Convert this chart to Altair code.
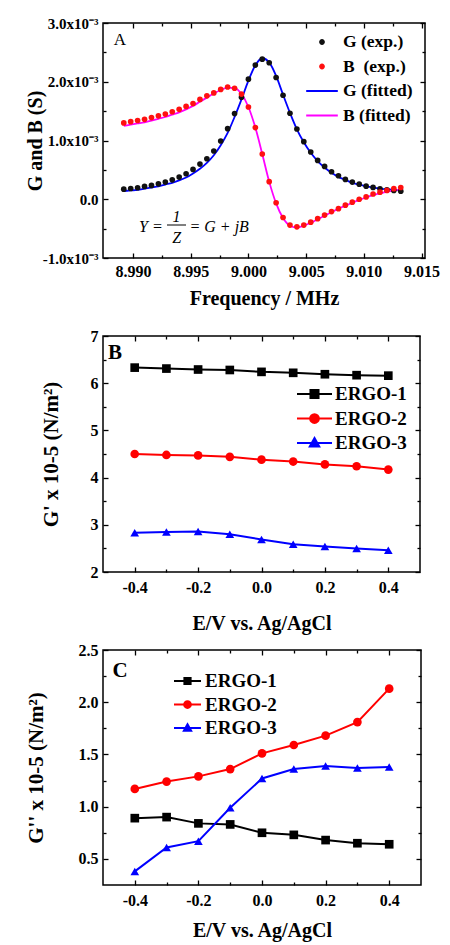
import altair as alt
import pandas as pd

FONT = "Liberation Serif"

# ---------------- Panel A: admittance spectrum ----------------
freq_mhz = [8.9892, 8.9898, 8.9904, 8.9910, 8.9916, 8.9922, 8.9928, 8.9934, 8.9940, 8.9946,
            8.9952, 8.9958, 8.9964, 8.9970, 8.9976, 8.9982, 8.9988, 8.9994, 9.0000, 9.0006,
            9.0012, 9.0018, 9.0024, 9.0030, 9.0036, 9.0042, 9.0048, 9.0054, 9.0060, 9.0066,
            9.0072, 9.0078, 9.0084, 9.0090, 9.0096, 9.0102, 9.0108, 9.0114, 9.0120, 9.0126,
            9.0132]
# values in units of 1e-3 S
g_exp = [0.172, 0.183, 0.195, 0.218, 0.235, 0.263, 0.292, 0.331, 0.377, 0.434,
         0.508, 0.599, 0.690, 0.821, 0.991, 1.202, 1.458, 1.737, 2.044, 2.283,
         2.385, 2.323, 2.073, 1.771, 1.464, 1.196, 0.980, 0.804, 0.661, 0.559,
         0.468, 0.400, 0.337, 0.292, 0.257, 0.223, 0.201, 0.178, 0.161, 0.149,
         0.138]
b_exp = [1.30, 1.32, 1.34, 1.36, 1.39, 1.42, 1.45, 1.49, 1.53, 1.58,
         1.63, 1.70, 1.76, 1.81, 1.87, 1.91, 1.89, 1.79, 1.57, 1.22,
         0.77, 0.30, -0.06, -0.31, -0.44, -0.47, -0.44, -0.39, -0.33, -0.27,
         -0.21, -0.16, -0.10, -0.05, 0.00, 0.04, 0.09, 0.12, 0.15, 0.18,
         0.20]
g_fit = [0.14, 0.15, 0.16, 0.18, 0.20, 0.22, 0.25, 0.28, 0.32, 0.37,
         0.44, 0.52, 0.62, 0.75, 0.92, 1.13, 1.40, 1.70, 2.02, 2.28,
         2.40, 2.33, 2.10, 1.78, 1.47, 1.19, 0.97, 0.79, 0.65, 0.54,
         0.45, 0.38, 0.33, 0.28, 0.25, 0.22, 0.20, 0.18, 0.17, 0.16,
         0.15]
b_fit = [1.25, 1.27, 1.29, 1.31, 1.34, 1.37, 1.40, 1.44, 1.48, 1.53,
         1.59, 1.66, 1.73, 1.80, 1.86, 1.90, 1.89, 1.79, 1.57, 1.22,
         0.77, 0.30, -0.07, -0.32, -0.45, -0.48, -0.45, -0.40, -0.34, -0.28,
         -0.22, -0.16, -0.11, -0.06, -0.01, 0.03, 0.07, 0.10, 0.13, 0.15,
         0.17]
A_series = ["G (exp.)", "B\u00a0 (exp.)", "G (fitted)", "B (fitted)"]
A_colors = ["#111111", "#ff1010", "#0000ff", "#ff00ff"]
DOT = "M0.12,0A0.12,0.12,0,1,1,-0.12,0A0.12,0.12,0,1,1,0.12,0Z"
A_legend_shapes = [DOT, DOT, "M-1,0H1", "M-1,0H1"]

# ---------------- Panels B and C: moduli vs potential ----------------
potential = [-0.4, -0.3, -0.2, -0.1, 0.0, 0.1, 0.2, 0.3, 0.4]
samples = ["ERGO-1", "ERGO-2", "ERGO-3"]
sample_colors = ["#000000", "#ff0000", "#0000ff"]
sample_markers = ["square", "circle", "triangle-up"]
sample_legend_shapes = [
    "M-1,0H1M-0.23,-0.23H0.23V0.23H-0.23Z",
    "M-1,0H1M0.25,0A0.25,0.25,0,1,1,-0.25,0A0.25,0.25,0,1,1,0.25,0Z",
    "M-1,0H1M0,-0.28L0.27,0.2H-0.27Z",
]
gp_ergo1 = [6.33, 6.31, 6.29, 6.28, 6.24, 6.22, 6.19, 6.17, 6.16]
gp_ergo2 = [4.50, 4.48, 4.47, 4.44, 4.38, 4.34, 4.28, 4.24, 4.17]
gp_ergo3 = [2.83, 2.85, 2.86, 2.80, 2.69, 2.59, 2.54, 2.50, 2.46]
gpp_ergo1 = [0.89, 0.90, 0.84, 0.83, 0.75, 0.73, 0.68, 0.65, 0.64]
gpp_ergo2 = [1.17, 1.24, 1.29, 1.36, 1.51, 1.59, 1.68, 1.81, 2.13]
gpp_ergo3 = [0.38, 0.61, 0.67, 0.99, 1.27, 1.36, 1.39, 1.37, 1.38]

# ---------------- tables ----------------
ptsA = pd.DataFrame({
    "f": freq_mhz * 2,
    "v": g_exp + b_exp,
    "s": [A_series[0]] * len(freq_mhz) + [A_series[1]] * len(freq_mhz),
})
fitA = pd.DataFrame({
    "f": freq_mhz * 2,
    "v": g_fit + b_fit,
    "s": [A_series[2]] * len(freq_mhz) + [A_series[3]] * len(freq_mhz),
})


def long_table(series_lists):
    rows = []
    for name, vals in zip(samples, series_lists):
        for e, v in zip(potential, vals):
            rows.append({"e": e, "v": v, "s": name})
    return pd.DataFrame(rows)


dfB = long_table([gp_ergo1, gp_ergo2, gp_ergo3])
dfC = long_table([gpp_ergo1, gpp_ergo2, gpp_ergo3])


# ---------------- helpers ----------------
def tick_layers(df, xf, yf, xscale, yscale, xmaj, xmin, ymaj, ymin, W, H):
    base = alt.Chart(df).mark_point(opacity=0, size=1)

    def ax(orient, off, vals, size):
        return alt.Axis(orient=orient, offset=off, values=vals, tickSize=size,
                        tickWidth=1.3, tickColor="black", labels=False, title=None,
                        domain=False, grid=False, ticks=True)

    layers = []
    for orient in ["top", "bottom"]:
        for vals, size in [(xmaj, 5), (xmin, 3)]:
            layers.append(base.encode(
                x=alt.X(f"{xf}:Q", scale=xscale, axis=ax(orient, -H, vals, size)),
                y=alt.Y(f"{yf}:Q", scale=yscale, axis=None)))
    for orient in ["left", "right"]:
        for vals, size in [(ymaj, 5), (ymin, 3)]:
            layers.append(base.encode(
                x=alt.X(f"{xf}:Q", scale=xscale, axis=None),
                y=alt.Y(f"{yf}:Q", scale=yscale, axis=ax(orient, -W, vals, size))))
    return layers


def hyphen(fmt):
    return f"replace(format(datum.value, '{fmt}'), '\u2212', '-')"


def label_axis(orient, vals, title, label_pad, title_pad, label_expr, title_size=20,
               label_size=16):
    return alt.Axis(orient=orient, values=vals, ticks=False, domain=False, grid=False,
                    labelFont=FONT, labelFontSize=label_size, labelFontWeight="bold",
                    labelColor="black", labelPadding=label_pad, labelFlush=False,
                    labelOverlap=False, labelExpr=label_expr,
                    title=title, titleFont=FONT, titleFontSize=title_size, titleFontWeight="bold",
                    titleColor="black", titlePadding=title_pad)


def make_legend(x, y, size, label_offset, row_pad, font_size):
    return alt.Legend(
        title=None, orient="none", legendX=x, legendY=y, padding=0,
        labelFont=FONT, labelFontSize=font_size, labelFontWeight="bold", labelColor="black",
        labelOffset=label_offset, symbolSize=size, symbolStrokeWidth=2, symbolOpacity=1,
        clipHeight=18, rowPadding=row_pad)


one = pd.DataFrame({"k": [0]})


def text_layer(txt, x, y, size, weight="normal", style="normal", align="center"):
    return alt.Chart(pd.DataFrame({"t": [txt]})).mark_text(
        font=FONT, fontSize=size, fontWeight=weight, fontStyle=style, color="black",
        align=align, baseline="middle").encode(text="t:N", x=alt.value(x), y=alt.value(y))


# ---------------- Panel A ----------------
WA, HA = 322, 235
xsA = alt.Scale(domain=[8.9874, 9.0153], nice=False, zero=False)
ysA = alt.Scale(domain=[-1.0, 3.0], nice=False, zero=False)
colA_scale = alt.Scale(domain=A_series, range=A_colors)
legA = make_legend(202, 10, 1000, 4, 6.5, 17.5)

legendA = alt.Chart(fitA).transform_filter("false").mark_point(filled=True, opacity=1, size=1000).encode(
    x=alt.X("f:Q", scale=xsA, axis=None),
    y=alt.Y("v:Q", scale=ysA, axis=None),
    color=alt.Color("s:N", scale=colA_scale, legend=legA),
    stroke=alt.Stroke("s:N", scale=alt.Scale(domain=A_series, range=A_colors), legend=legA),
    shape=alt.Shape("s:N", scale=alt.Scale(domain=A_series, range=A_legend_shapes), legend=legA))
linesA = alt.Chart(fitA).mark_line(strokeWidth=1.8, interpolate="monotone").encode(
    x=alt.X("f:Q", scale=xsA, axis=None),
    y=alt.Y("v:Q", scale=ysA, axis=None),
    color=alt.Color("s:N", scale=colA_scale, legend=None), detail="s:N")
pointsA = alt.Chart(ptsA).mark_point(filled=True, size=32, opacity=1).encode(
    x=alt.X("f:Q", scale=xsA,
            axis=label_axis("bottom", [8.990, 8.995, 9.000, 9.005, 9.010, 9.015],
                            "Frequency / MHz", 5, 9, hyphen(".3f"))),
    y=alt.Y("v:Q", scale=ysA,
            axis=label_axis("left", [-1, 0, 1, 2, 3], "G and B (S)", 5, -3,
                            "datum.value == 0 ? '0.0' : " + hyphen(".1f") + " + 'x10\u207b\u00b3'",
                            label_size=15)),
    color=alt.Color("s:N", scale=colA_scale, legend=None))

formula = [
    text_layer("Y =", 36, 204, 16, style="italic", align="left"),
    text_layer("1", 73.5, 194, 16, style="italic"),
    text_layer("Z", 73.8, 215, 16, style="italic"),
    text_layer("= G +  jB", 86.5, 204, 16, style="italic", align="left"),
    alt.Chart(one).mark_rule(color="black", strokeWidth=1).encode(
        x=alt.value(64), x2=alt.value(83), y=alt.value(202)),
]

panelA = alt.layer(
    legendA, linesA, pointsA, *formula,
    text_layer("A", 17, 17, 17),
    *tick_layers(ptsA, "f", "v", xsA, ysA,
                 [8.990, 8.995, 9.000, 9.005, 9.010, 9.015],
                 [8.9925, 8.9975, 9.0025, 9.0075, 9.0125],
                 [-1, 0, 1, 2, 3], [-0.5, 0.5, 1.5, 2.5], WA, HA),
).resolve_axis(x="independent", y="independent").properties(width=WA, height=HA)


# ---------------- Panels B / C ----------------
def modulus_panel(df, ydom, ymaj, ymin, yfmt, ytitle, ytitle_pad, xtitle, letter, letter_xy,
                  leg_xy, sym_size, label_offset, row_pad, W, H, xtitle_pad):
    xs = alt.Scale(domain=[-0.5, 0.5], nice=False, zero=False)
    ys = alt.Scale(domain=ydom, nice=False, zero=False)
    col_scale = alt.Scale(domain=samples, range=sample_colors)
    leg = make_legend(leg_xy[0], leg_xy[1], sym_size, label_offset, row_pad, 19)
    legend_layer = alt.Chart(df).transform_filter("false").mark_point(
        filled=True, opacity=1, size=sym_size).encode(
        x=alt.X("e:Q", scale=xs, axis=None),
        y=alt.Y("v:Q", scale=ys, axis=None),
        color=alt.Color("s:N", scale=col_scale, legend=leg),
        stroke=alt.Stroke("s:N", scale=alt.Scale(domain=samples, range=sample_colors), legend=leg),
        shape=alt.Shape("s:N", scale=alt.Scale(domain=samples, range=sample_legend_shapes), legend=leg))
    lines = alt.Chart(df).mark_line(strokeWidth=2).encode(
        x=alt.X("e:Q", scale=xs, axis=None),
        y=alt.Y("v:Q", scale=ys, axis=None),
        color=alt.Color("s:N", scale=col_scale, legend=None), detail="s:N")
    point_layers = []
    for i, (name, marker) in enumerate(zip(samples, sample_markers)):
        if i == 0:
            xa = label_axis("bottom", [-0.4, -0.2, 0.0, 0.2, 0.4], xtitle, 7, xtitle_pad, hyphen(".1f"))
            ya = label_axis("left", ymaj, ytitle, 5, ytitle_pad, hyphen(yfmt), title_size=21)
        else:
            xa, ya = None, None
        point_layers.append(
            alt.Chart(df).transform_filter(alt.datum.s == name).mark_point(
                filled=True, size=75, opacity=1, shape=marker).encode(
                x=alt.X("e:Q", scale=xs, axis=xa),
                y=alt.Y("v:Q", scale=ys, axis=ya),
                color=alt.Color("s:N", scale=col_scale, legend=None)))
    return alt.layer(
        legend_layer, lines, *point_layers,
        text_layer(letter, letter_xy[0], letter_xy[1], 21, weight="bold"),
        *tick_layers(df, "e", "v", xs, ys, [-0.4, -0.2, 0.0, 0.2, 0.4], [-0.3, -0.1, 0.1, 0.3],
                     ymaj, ymin, W, H),
    ).resolve_axis(x="independent", y="independent").properties(width=W, height=H)


panelB = modulus_panel(dfB, [2, 7], [2, 3, 4, 5, 6, 7], [2.5, 3.5, 4.5, 5.5, 6.5], "d",
                       "G' x 10-5 (N/m\u00b2)", 29, "E/V vs. Ag/AgCl", "B", (12, 17),
                       (193, 49), 1225, 2, 5.5, 317, 236, 18)
panelC = modulus_panel(dfC, [0.25, 2.5], [0.5, 1.0, 1.5, 2.0, 2.5], [0.75, 1.25, 1.75, 2.25], ".1f",
                       "G'' x 10-5 (N/m\u00b2)", 32, "E/V vs. Ag/AgCl", "C", (17, 21),
                       (70, 22), 729, 3, 4.5, 318, 235, 12)

chart = alt.vconcat(panelA, panelB, panelC, spacing=78, bounds="flush", center=False).resolve_scale(
    color="independent", stroke="independent", shape="independent"
).resolve_legend(
    color="independent", stroke="independent", shape="independent"
).properties(
    padding={"left": 24, "top": 15, "right": 5, "bottom": 2},
    background="white",
).configure_view(stroke="black", strokeWidth=1.5)

chart.save("out.html", embed_options={"renderer": "svg", "actions": False})
